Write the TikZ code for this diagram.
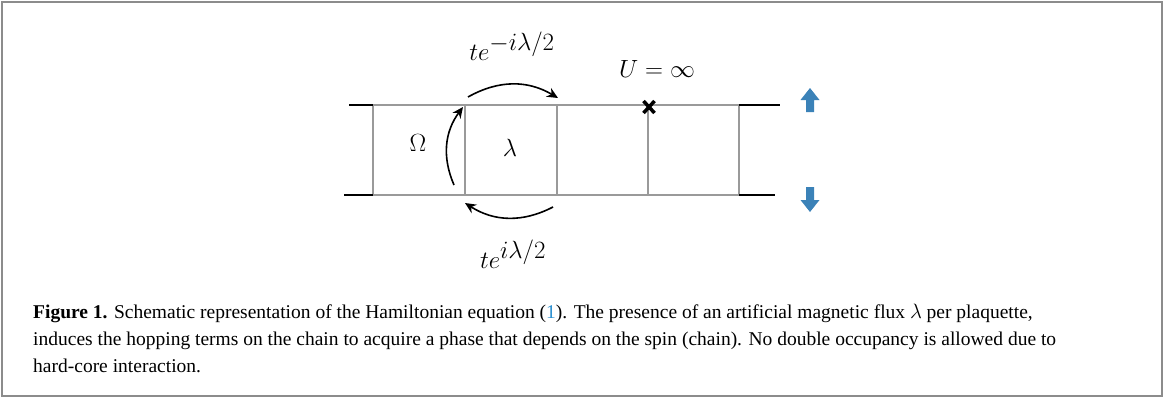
\documentclass[tikz,border=0pt]{standalone}
\usepackage{fontspec}
\setmainfont{Liberation Serif}
\usetikzlibrary{arrows.meta,calc}
\definecolor{ladder}{HTML}{9A9A9A}
\definecolor{spinblue}{HTML}{3B82B8}
\definecolor{refblue}{HTML}{2A8FD0}
\definecolor{framegray}{HTML}{8C8C8C}
\begin{document}
\begin{tikzpicture}[x=1pt,y=-1pt,
  rung/.style={draw=ladder,line width=1.8pt},
  lead/.style={draw=black,line width=1.8pt},
  hop/.style={draw=black,line width=1.6pt,-{Stealth[length=11pt,width=10pt]}},
  mlabel/.style={inner sep=0pt,anchor=base,font=\fontsize{33}{33}\selectfont},
  spin/.style={fill=spinblue,draw=none}]
\useasboundingbox (0,0) rectangle (1168,399);
\draw[framegray,line width=2pt] (2,2) rectangle (1162,396);
% ladder coordinates
\coordinate (t0) at (373,105); \coordinate (b0) at (373,195);
\coordinate (t1) at (465,105); \coordinate (b1) at (465,195);
\coordinate (t2) at (557,105); \coordinate (b2) at (557,195);
\coordinate (t3) at (648,105); \coordinate (b3) at (648,195);
\coordinate (t4) at (739,105); \coordinate (b4) at (739,195);
\coordinate (tl) at (349,105); \coordinate (bl) at (344,195);
\coordinate (tr) at (780,105); \coordinate (br) at (775,195);
\draw[rung] (t0) -- (t4);
\draw[rung] (b0) -- (b4);
\foreach \i in {0,...,4} \draw[rung] (t\i) -- (b\i);
\draw[lead] (tl) -- (t0);
\draw[lead] (bl) -- (b0);
\draw[lead] (t4) -- (tr);
\draw[lead] (b4) -- (br);
% X mark
\coordinate (xm) at (649,107);
\draw[black,line width=3.5pt] ($(xm)+(-5.5,-6)$) -- ($(xm)+(5.5,6)$);
\draw[black,line width=3.5pt] ($(xm)+(5.5,-6)$) -- ($(xm)+(-5.5,6)$);
% hopping arrows
\coordinate (h1s) at (468,97); \coordinate (h1e) at (558,98);
\coordinate (h2s) at (553,207); \coordinate (h2e) at (465,203);
\coordinate (h3s) at (454,185); \coordinate (h3e) at (463,107);
\draw[hop] (h1s) to[bend left=30] (h1e);
\draw[hop] (h2s) to[bend left=30] (h2e);
\draw[hop] (h3s) to[bend left=30] (h3e);
% labels
\node[mlabel] (ltop) at (512,60) {$te^{-i\lambda/2}$};
\node[mlabel] (lbot) at (513,268) {$te^{i\lambda/2}$};
\node[mlabel,font=\fontsize{31}{31}\selectfont] (lU) at (657,77) {$U=\infty$};
\node[mlabel,font=\fontsize{29}{29}\selectfont] (lOm) at (418,151) {$\Omega$};
\node[mlabel,font=\fontsize{29}{29}\selectfont] (lla) at (510,156) {$\lambda$};
% spin arrows
\fill[spin] (810,88) -- (819.5,100) -- (814,100) -- (814,112) -- (806,112) -- (806,100) -- (800.5,100) -- cycle;
\fill[spin] (810,212) -- (819.5,200) -- (814,200) -- (814,187) -- (806,187) -- (806,200) -- (800.5,200) -- cycle;
% caption
\node[anchor=base west,inner sep=0pt,align=left,font=\fontsize{19.5}{27}\selectfont] (cap) at (33,372)
{\textbf{Figure 1.} Schematic representation of the Hamiltonian equation (\textcolor{refblue}{1}). The presence of an artificial magnetic flux $\lambda$ per plaquette,\\
induces the hopping terms on the chain to acquire a phase that depends on the spin (chain). No double occupancy is allowed due to\\
hard-core interaction.};
\end{tikzpicture}
\end{document}
